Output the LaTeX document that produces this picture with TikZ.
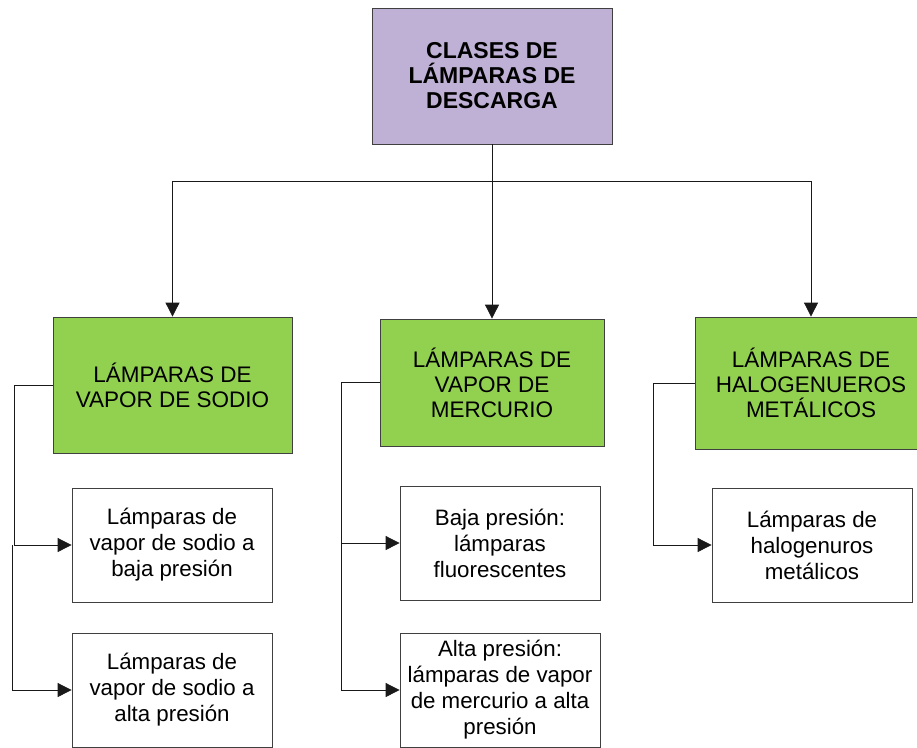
\documentclass[tikz,border=0pt]{standalone}
\usepackage{fontspec}
\setmainfont{Liberation Sans}
\usetikzlibrary{arrows.meta}
\definecolor{lila}{RGB}{191,177,213}
\definecolor{verde}{RGB}{146,208,80}

\begin{document}
\begin{tikzpicture}[x=1pt,y=-1pt,
  caja/.style={draw=black!75, line width=0.8pt, align=center, inner sep=0pt},
  tema/.style={caja, fill=verde, font=\fontsize{22.5}{25}\selectfont},
  hoja/.style={caja, fill=white, minimum width=200, minimum height=114, font=\fontsize{22.3}{26}\selectfont},
  flecha/.style={-{Triangle[length=14pt,width=14pt]}, line width=0.8pt, black!90}]
\useasboundingbox (0,0) rectangle (917,747);
% cajas
\node [caja, fill=lila, minimum width=240, minimum height=136, font=\bfseries\fontsize{23}{25}\selectfont] (clases) at (492,76) {CLASES DE\\LÁMPARAS DE\\DESCARGA};
\node [tema, minimum width=239, minimum height=136] (sodio) at (172.5,385) {LÁMPARAS DE\\VAPOR DE SODIO};
\node [tema, minimum width=224, minimum height=127] (mercurio) at (492,382.5) {LÁMPARAS DE\\VAPOR DE\\MERCURIO};
\node [tema, minimum width=232, minimum height=132] (haluros) at (811,383) {LÁMPARAS DE\\HALOGENUEROS\\METÁLICOS};
\node [hoja] (sodiobaja) at (172,545) {Lámparas de\\vapor de sodio a\\baja presión};
\node [hoja] (sodioalta) at (172,690) {Lámparas de\\vapor de sodio a\\alta presión};
\node [hoja] (fluor) at (500,543) {Baja presión:\\lámparas\\fluorescentes};
\node [hoja] (mercalta) at (500,690) {Alta presión:\\lámparas de vapor\\de mercurio a alta\\presión};
\node [hoja] (halo) at (812,545) {Lámparas de\\halogenuros\\metálicos};
% flechas
\coordinate (bus) at (492,181);
\draw [line width=0.8pt, black!90] (clases.south) -- (bus);
\draw [flecha] (bus) -| (sodio.north);
\draw [flecha] (bus) -- (mercurio.north);
\draw [flecha] (bus) -| (haluros.north);
\draw [flecha] (sodio.west) -- ++(-38,0) |- (sodiobaja.west);
\coordinate (ramal) at (12,545);
\draw [flecha] (ramal) |- (sodioalta.west);
\draw [flecha] (mercurio.west) -- ++(-38,0) |- (fluor.west);
\draw [flecha] (mercurio.west) -- ++(-38,0) |- (mercalta.west);
\draw [flecha] (haluros.west) -- ++(-41,0) |- (halo.west);
\end{tikzpicture}
\end{document}
